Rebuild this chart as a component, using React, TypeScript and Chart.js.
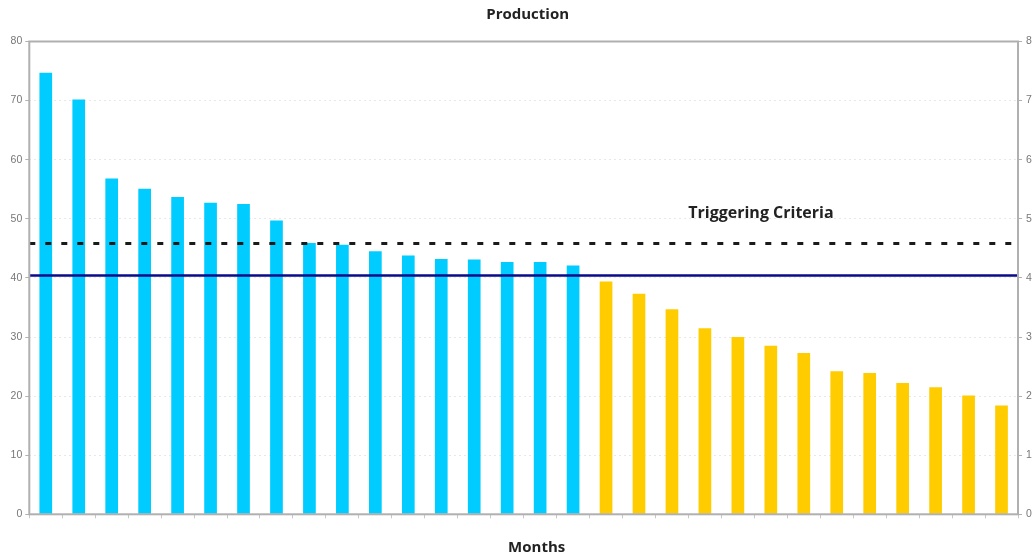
import React, { useEffect, useRef } from "react";
import { Chart, registerables } from "chart.js";

Chart.register(...registerables);

const months: string[] = Array.from({ length: 30 }, (_, i) => String(i + 1));
const production: number[] = [
  74.7, 70.2, 56.8, 55.1, 53.7, 52.7, 52.5, 49.7, 45.9, 45.6,
  44.5, 43.8, 43.2, 43.1, 42.7, 42.7, 42.1, 39.4, 37.3, 34.7,
  31.5, 30.0, 28.5, 27.3, 24.2, 23.9, 22.2, 21.5, 20.1, 18.4,
];
const triggerLevel = 40.4;
const upperLevel = 45.8;
const yMin = 0;
const yMax = 80;
const yStep = 10;
const chartTitle = "Production";
const xTitle = "Months";
const annotationText = "Triggering Criteria";
const annotationValue = 50.9;

const BLUE = "#00CCFF";
const YELLOW = "#FFCC00";
const W = 1050;
const H = 555;

const overlay = {
  id: "overlay",
  afterDatasetsDraw(chart: any) {
    const { ctx, chartArea, scales } = chart;
    const { left, right, top, bottom } = chartArea;
    const y = scales.y;
    ctx.save();
    ctx.beginPath();
    ctx.setLineDash([6, 10]);
    ctx.lineWidth = 3;
    ctx.strokeStyle = "#1a1a1a";
    const yu = y.getPixelForValue(upperLevel);
    ctx.moveTo(left, yu);
    ctx.lineTo(right, yu);
    ctx.stroke();
    ctx.beginPath();
    ctx.setLineDash([]);
    ctx.lineWidth = 2.5;
    ctx.strokeStyle = "#0a0a8a";
    const yt = y.getPixelForValue(triggerLevel);
    ctx.moveTo(left, yt);
    ctx.lineTo(right, yt);
    ctx.stroke();
    ctx.lineWidth = 2;
    ctx.strokeStyle = "#b0b0b0";
    ctx.strokeRect(left, top, right - left, bottom - top);
    ctx.fillStyle = "#222222";
    ctx.textBaseline = "middle";
    ctx.font = "bold 15px 'Open Sans'";
    ctx.textAlign = "center";
    ctx.fillText(chartTitle, (left + right) / 2 + 4, 15);
    ctx.fillText(xTitle, (left + right) / 2 + 13, 548);
    ctx.font = "bold 16px 'Open Sans'";
    ctx.textAlign = "left";
    ctx.fillText(
      annotationText,
      left + (right - left) * 0.6665,
      y.getPixelForValue(annotationValue)
    );
    ctx.restore();
  },
};

export default function App() {
  const ref = useRef<HTMLCanvasElement | null>(null);
  useEffect(() => {
    if (!ref.current) return;
    const tickFont = { family: "'Liberation Sans', Arial, sans-serif", size: 10.5 };
    const chart = new Chart(ref.current, {
      type: "bar",
      data: {
        labels: months,
        datasets: [
          {
            label: "Production",
            data: production,
            backgroundColor: production.map((v) => (v >= triggerLevel ? BLUE : YELLOW)),
            borderWidth: 0,
            categoryPercentage: 1,
            barPercentage: 0.385,
          },
        ],
      },
      options: {
        responsive: false,
        animation: false,
        devicePixelRatio: 1,
        layout: { padding: { top: 41.5, left: 0, right: 0, bottom: 0 } },
        plugins: {
          legend: { display: false },
          title: { display: false },
          tooltip: { enabled: false },
        },
        scales: {
          x: {
            type: "category",
            offset: true,
            grid: {
              display: true,
              offset: true,
              drawOnChartArea: false,
              drawTicks: true,
              tickLength: 4,
              tickColor: "#c8c8c8",
              color: "#c8c8c8",
            },
            border: { display: false },
            ticks: { display: false },
            afterFit: (s: any) => {
              s.height = H - 514.3;
            },
          },
          y: {
            position: "left",
            min: yMin,
            max: yMax,
            ticks: { stepSize: yStep, color: "#777777", font: tickFont, padding: 3 },
            grid: {
              color: "#e8e8e8",
              lineWidth: 1,
              tickColor: "#b0b0b0",
              tickLength: 4,
              tickBorderDash: [],
            },
            border: { display: false, dash: [2, 3] },
            afterFit: (s: any) => {
              s.width = 29.3;
            },
          },
          y2: {
            position: "right",
            min: yMin,
            max: yMax,
            ticks: { stepSize: yStep, color: "#777777", font: tickFont, padding: 4 },
            grid: {
              drawOnChartArea: false,
              color: "#b0b0b0",
              tickColor: "#b0b0b0",
              tickLength: 4,
            },
            border: { display: false },
            afterFit: (s: any) => {
              s.width = W - 1018;
            },
          },
        },
      },
      plugins: [overlay],
    });
    return () => chart.destroy();
  }, []);
  return (
    <div
      style={{
        position: "absolute",
        left: 0,
        top: 0,
        width: 1032,
        height: H,
        overflow: "hidden",
        background: "#ffffff",
      }}
    >
      <canvas ref={ref} width={W} height={H} style={{ width: W, height: H, display: "block" }} />
    </div>
  );
}
